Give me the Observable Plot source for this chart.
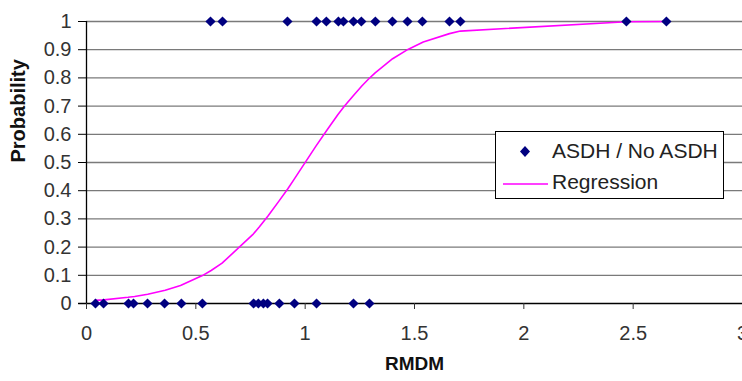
<!DOCTYPE html>
<html>
<head>
<meta charset="utf-8">
<script src="https://cdn.jsdelivr.net/npm/d3@7"></script>
<script src="https://cdn.jsdelivr.net/npm/@observablehq/plot@0.6"></script>
<style>
  html, body { margin: 0; padding: 0; background: #fff; }
  #wrap { position: relative; width: 742px; height: 381px; overflow: hidden; font-family: "Liberation Sans", Arial, sans-serif; }
  #legend { position: absolute; left: 495px; top: 131px; width: 229px; height: 68px; background: #fff; border: 1px solid #000; box-sizing: border-box; }
  #legend .row { position: absolute; left: 0; font-size: 21px; color: #222; white-space: nowrap; }
</style>
</head>
<body>
<div id="wrap"></div>
<script>
// Observations: RMDM values of cases with ASDH (y = 1) and without (y = 0)
const asdhX = [0.567, 0.622, 0.919, 1.052, 1.097, 1.152, 1.175, 1.221, 1.257, 1.321, 1.399, 1.468, 1.536, 1.660, 1.710, 2.469, 2.652];
const noAsdhX = [0.041, 0.078, 0.192, 0.215, 0.279, 0.357, 0.434, 0.530, 0.764, 0.786, 0.809, 0.828, 0.882, 0.951, 1.052, 1.221, 1.294];

// Regression curve
const regX = [0.04, 0.08, 0.19, 0.22, 0.28, 0.36, 0.43, 0.53, 0.57, 0.62, 0.76, 0.79, 0.81, 0.83, 0.88, 0.92, 0.95, 1.05, 1.10, 1.15, 1.18, 1.22, 1.26, 1.29, 1.32, 1.40, 1.47, 1.54, 1.66, 1.71, 2.47, 2.65];
const regY = [0.011, 0.013, 0.022, 0.025, 0.033, 0.047, 0.064, 0.099, 0.117, 0.143, 0.244, 0.271, 0.291, 0.31, 0.363, 0.406, 0.441, 0.559, 0.615, 0.67, 0.70, 0.737, 0.772, 0.796, 0.818, 0.868, 0.901, 0.927, 0.957, 0.966, 0.999, 1.0];

// Axis ticks
const xTicks = [0, 0.5, 1, 1.5, 2, 2.5, 3];
const yTicks = [0, 0.1, 0.2, 0.3, 0.4, 0.5, 0.6, 0.7, 0.8, 0.9, 1];
const xTitle = "RMDM";
const yTitle = "Probability";
const seriesNames = ["ASDH / No ASDH", "Regression"];

const points = [
  ...asdhX.map(x => ({x, y: 1})),
  ...noAsdhX.map(x => ({x, y: 0}))
];
const reg = regX.map((x, i) => ({x, y: regY[i]}));

const chart = Plot.plot({
  width: 742,
  height: 381,
  marginLeft: 86,
  marginRight: 0,
  marginTop: 21,
  marginBottom: 78,
  style: {fontFamily: "'Liberation Sans', Arial, sans-serif", background: "#fff", overflow: "visible"},
  x: {domain: [0, 3]},
  y: {domain: [0, 1]},
  marks: [
    Plot.ruleY(yTicks.filter(d => d > 0), {stroke: "#7a7a7a", strokeWidth: 1.3}),
    Plot.ruleY([0], {stroke: "#000", strokeWidth: 1.3, x1: -0.036, x2: 3}),
    Plot.ruleX([0], {stroke: "#000", strokeWidth: 1.3, y1: 0, y2: 1}),
    Plot.axisY({ticks: yTicks, tickSize: 8, tickPadding: 7, fontSize: 20, tickFormat: d => String(d), label: null, stroke: "#000", color: "#333"}),
    Plot.axisX({ticks: xTicks, tickSize: 6, tickPadding: 16, fontSize: 20, tickFormat: d => String(d), label: null, color: "#333"}),
    Plot.line(reg, {x: "x", y: "y", stroke: "#ff00ff", strokeWidth: 1.6}),
    Plot.dot(points, {x: "x", y: "y", symbol: "diamond2", r: 4.6, fill: "#000080", stroke: "none"}),
    Plot.text([xTitle], {frameAnchor: "bottom", dy: 66, fontSize: 19, fontWeight: "bold", fill: "#111"}),
    Plot.text([yTitle], {frameAnchor: "left", dx: -68, rotate: -90, fontSize: 20, fontWeight: "bold", fill: "#111"})
  ]
});

const wrap = document.getElementById("wrap");
wrap.appendChild(chart);

const legend = document.createElement("div");
legend.id = "legend";
legend.innerHTML = `
  <svg width="229" height="68" style="position:absolute;left:0;top:0">
    <path d="M29,14 L34,19.5 L29,25 L24,19.5 Z" fill="#000080"/>
    <line x1="7" x2="52" y1="52" y2="52" stroke="#ff00ff" stroke-width="1.6"/>
  </svg>
  <div class="row" style="left:56px;top:7px">${seriesNames[0]}</div>
  <div class="row" style="left:56px;top:38px">${seriesNames[1]}</div>`;
wrap.appendChild(legend);
</script>
</body>
</html>
